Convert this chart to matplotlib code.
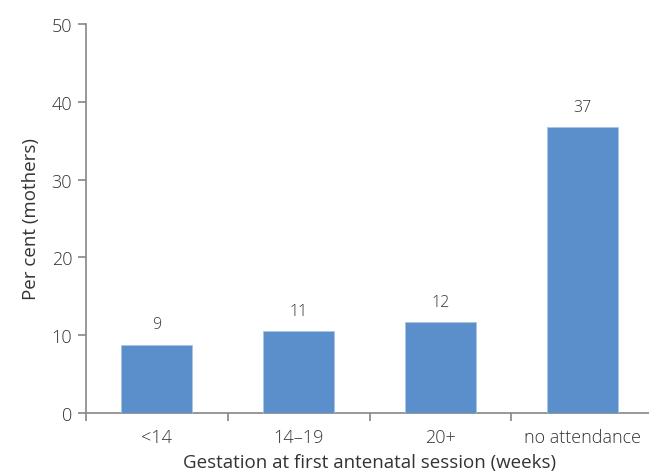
import numpy as np
import matplotlib.pyplot as plt
import matplotlib as mpl

mpl.rcParams['font.family'] = ['Open Sans', 'DejaVu Sans']
mpl.rcParams['font.weight'] = 'light'

categories = ['<14', '14\u201319', '20+', 'no attendance']
values = [8.8, 10.5, 11.7, 36.7]
labels = ['9', '11', '12', '37']

text_col = '#333333'
axis_col = '#868686'

fig = plt.figure(figsize=(6.49, 4.77), dpi=100)
ax = fig.add_axes([86 / 649, 1 - 414 / 477, (653 - 86) / 649, (414 - 25) / 477])

x = np.arange(len(categories))
ax.bar(x, values, width=0.5, color='#5B8FCB', edgecolor='#A9C4E6', linewidth=0.6, zorder=3)

for xi, v, lab in zip(x, values, labels):
    ax.text(xi, v + 1.6, lab, ha='center', va='bottom', fontsize=11.5, color=text_col)

ax.set_xlim(-0.5, len(categories) - 0.5)
ax.set_ylim(0, 50)
ax.set_yticks([0, 10, 20, 30, 40, 50])

ax.set_xticks(x)
ax.set_xticklabels(categories)
ax.set_xticks(np.arange(-0.5, len(categories), 1), minor=True)
ax.tick_params(axis='x', which='major', length=0, pad=11, labelsize=13, colors=text_col)
ax.tick_params(axis='x', which='minor', length=6, width=1.2, color=axis_col, direction='out')
ax.tick_params(axis='y', length=6, width=1.2, color=axis_col, labelsize=13, labelcolor=text_col, pad=4)

for s in ['top', 'right']:
    ax.spines[s].set_visible(False)
for s in ['left', 'bottom']:
    ax.spines[s].set_color(axis_col)
    ax.spines[s].set_linewidth(1.2)

ax.set_ylabel('Per cent (mothers)', fontsize=13.5, color=text_col, labelpad=8)
ax.set_xlabel('Gestation at first antenatal session (weeks)', fontsize=13.5, color=text_col, labelpad=5)

fig.savefig('out.png', dpi=100)
